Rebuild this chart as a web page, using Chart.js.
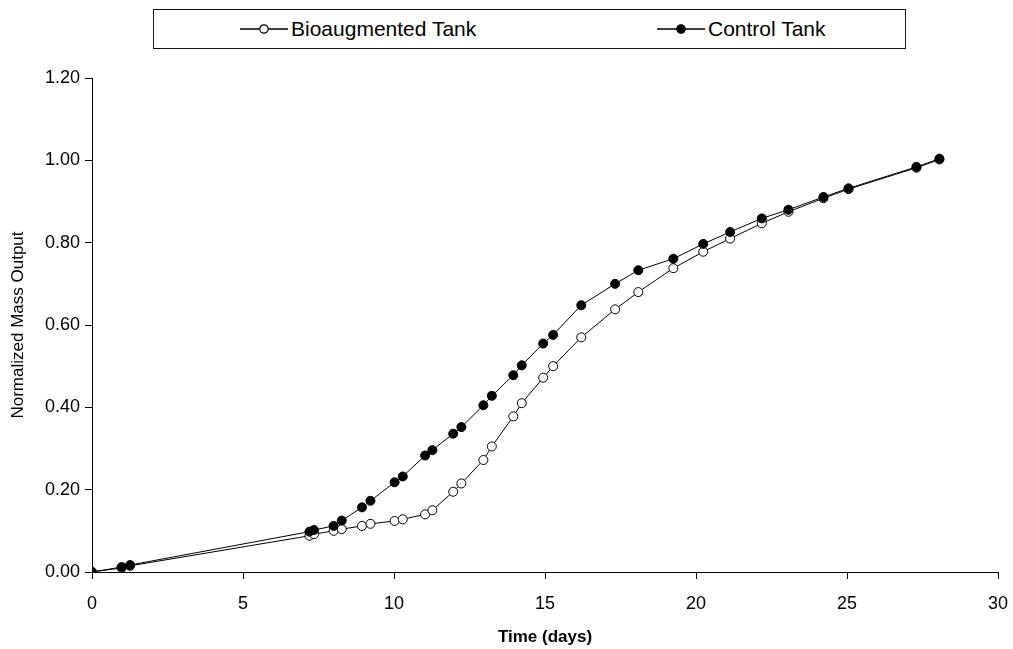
<!DOCTYPE html>
<html>
<head>
<meta charset="utf-8">
<script src="https://cdn.jsdelivr.net/npm/chart.js@4.4.1/dist/chart.umd.min.js"></script>
<style>
  html, body { margin: 0; padding: 0; background: #fff; }
  #wrap { position: relative; width: 1013px; height: 649px; }
  #c { position: absolute; left: 0; top: 0; }
  #legend { position: absolute; left: 153px; top: 9px; width: 753px; height: 40px;
            border: 1.5px solid #111; box-sizing: border-box; background: #fff;
            font-family: "Liberation Sans", Arial, sans-serif; font-size: 21px; color: #000; }
  .item { position: absolute; top: 0; height: 37px; line-height: 37px; white-space: nowrap; }
  .item svg { position: absolute; top: 13px; left: 0; }
  .item span { position: absolute; top: 0; }
</style>
</head>
<body>
<div id="wrap">
  <canvas id="c" width="1013" height="649"></canvas>
  <div id="legend"></div>
</div>
<script>
// ---- data ----
const seriesNames = ["Bioaugmented Tank", "Control Tank"];
const bioDays = [0, 0.98, 1.26, 7.2, 7.35, 8.0, 8.27, 8.94, 9.22, 10.02, 10.29, 11.03, 11.27,
  11.96, 12.23, 12.96, 13.24, 13.95, 14.23, 14.94, 15.27, 16.2, 17.32, 18.09, 19.25, 20.24,
  21.13, 22.18, 23.06, 24.22, 25.05, 27.3, 28.06];
const bioValues = [0, 0.010, 0.015, 0.088, 0.092, 0.100, 0.104, 0.112, 0.117, 0.124, 0.128, 0.140, 0.150,
  0.195, 0.215, 0.272, 0.305, 0.378, 0.410, 0.472, 0.500, 0.570, 0.638, 0.680, 0.738, 0.778,
  0.810, 0.847, 0.875, 0.908, 0.930, 0.982, 1.002];
const ctrlDays = [0, 0.98, 1.26, 7.2, 7.35, 8.0, 8.27, 8.94, 9.22, 10.02, 10.29, 11.03, 11.27,
  11.96, 12.23, 12.96, 13.24, 13.95, 14.23, 14.94, 15.27, 16.2, 17.32, 18.09, 19.25, 20.24,
  21.13, 22.18, 23.06, 24.22, 25.05, 27.3, 28.06];
const ctrlValues = [0, 0.012, 0.017, 0.098, 0.102, 0.112, 0.125, 0.157, 0.173, 0.218, 0.232, 0.283, 0.296,
  0.336, 0.352, 0.405, 0.428, 0.478, 0.502, 0.555, 0.576, 0.648, 0.700, 0.733, 0.761, 0.797,
  0.826, 0.859, 0.880, 0.911, 0.932, 0.984, 1.004];
const xTicks = [0, 5, 10, 15, 20, 25, 30];
const yTicks = [0, 0.2, 0.4, 0.6, 0.8, 1.0, 1.2];
const xTitle = "Time (days)";
const yTitle = "Normalized Mass Output";

const FONT = "'Liberation Sans', Arial, sans-serif";

function pts(xs, ys) { return xs.map((x, i) => ({ x: x, y: ys[i] })); }

// ---- legend (HTML) ----
const legend = document.getElementById('legend');
const legendItems = [
  { name: seriesNames[0], fill: '#fff', left: 86 },
  { name: seriesNames[1], fill: '#000', left: 503 }
];
legendItems.forEach(it => {
  const d = document.createElement('div');
  d.className = 'item';
  d.style.left = it.left + 'px';
  d.innerHTML = '<svg width="50" height="12"><line x1="0" y1="6" x2="48" y2="6" stroke="#000" stroke-width="1.3"/>' +
    '<circle cx="24" cy="6" r="4.2" fill="' + it.fill + '" stroke="#000" stroke-width="1.2"/></svg>' +
    '<span style="left:51px"></span>';
  d.querySelector('span').textContent = it.name;
  legend.appendChild(d);
});

// ---- chart ----
new Chart(document.getElementById('c'), {
  type: 'scatter',
  data: {
    datasets: [
      {
        label: seriesNames[0],
        data: pts(bioDays, bioValues),
        showLine: true,
        borderColor: '#000',
        borderWidth: 1,
        pointRadius: 4.5,
        pointBackgroundColor: '#fff',
        pointBorderColor: '#000',
        pointBorderWidth: 1,
        order: 2
      },
      {
        label: seriesNames[1],
        data: pts(ctrlDays, ctrlValues),
        showLine: true,
        borderColor: '#000',
        borderWidth: 1,
        pointRadius: 4.5,
        pointBackgroundColor: '#000',
        pointBorderColor: '#000',
        pointBorderWidth: 1,
        order: 1
      }
    ]
  },
  options: {
    responsive: false,
    animation: false,
    devicePixelRatio: 1,
    layout: { padding: { left: 0, right: 15, top: 78, bottom: 0 } },
    plugins: { legend: { display: false }, tooltip: { enabled: false } },
    elements: { line: { tension: 0 } },
    scales: {
      x: {
        type: 'linear',
        min: xTicks[0],
        max: xTicks[xTicks.length - 1],
        afterBuildTicks: s => { s.ticks = xTicks.map(v => ({ value: v })); },
        afterFit: s => { s.height = 77; s.paddingLeft = 0; s.paddingRight = 0; },
        ticks: {
          color: '#000',
          font: { family: FONT, size: 18 },
          padding: 14,
          maxRotation: 0,
          autoSkip: false,
          callback: v => String(v)
        },
        grid: { display: true, drawOnChartArea: false, drawTicks: true, tickLength: 7, color: '#000', lineWidth: 1 },
        border: { display: true, color: '#000', width: 1 },
        title: {
          display: true, text: xTitle, color: '#000',
          font: { family: FONT, size: 17, weight: 'bold' },
          padding: { top: 0, bottom: 1 }
        }
      },
      y: {
        type: 'linear',
        min: yTicks[0],
        max: yTicks[yTicks.length - 1],
        afterBuildTicks: s => { s.ticks = yTicks.map(v => ({ value: v })); },
        afterFit: s => { s.width = 92; s.paddingTop = 0; s.paddingBottom = 0; },
        ticks: {
          color: '#000',
          font: { family: FONT, size: 18 },
          padding: 5,
          autoSkip: false,
          callback: v => Number(v).toFixed(2)
        },
        grid: { display: true, drawOnChartArea: false, drawTicks: true, tickLength: 7, color: '#000', lineWidth: 1 },
        border: { display: true, color: '#000', width: 1 },
        title: {
          display: true, text: yTitle, color: '#000',
          font: { family: FONT, size: 17 },
          padding: { top: 8, bottom: 0 }
        }
      }
    }
  }
});
</script>
</body>
</html>
